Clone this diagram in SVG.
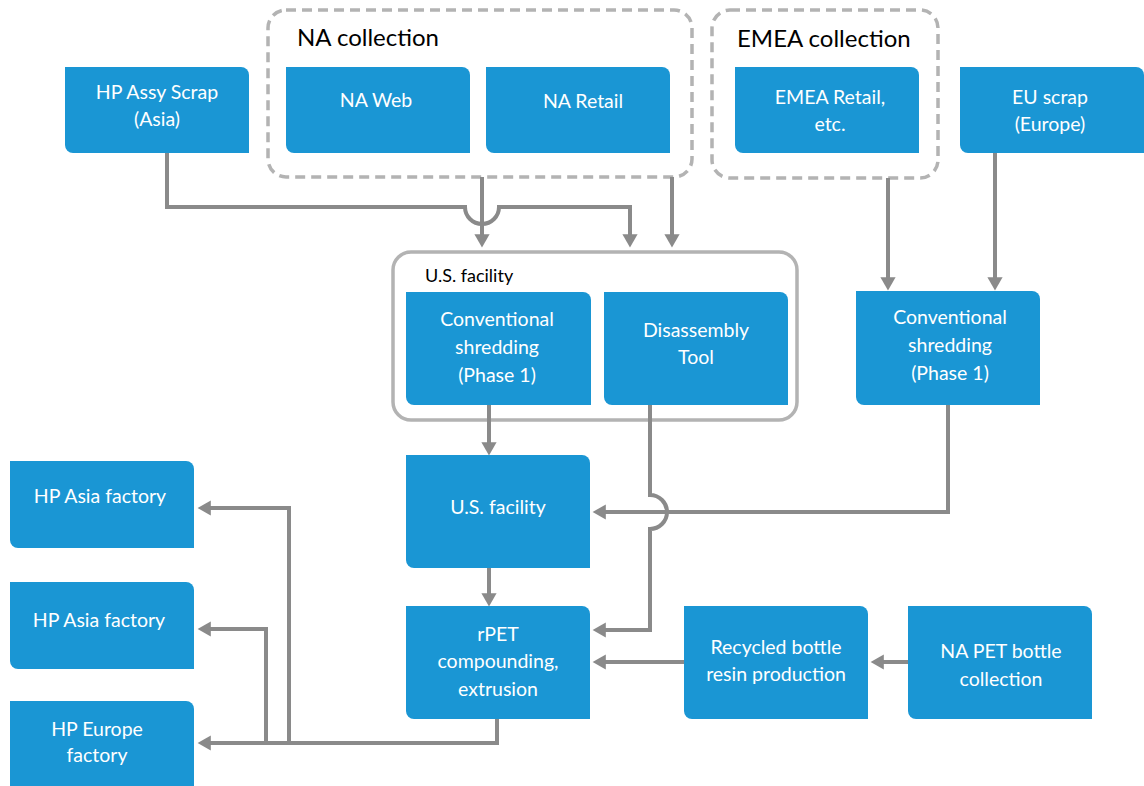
<svg xmlns="http://www.w3.org/2000/svg" width="1144" height="786" viewBox="0 0 1144 786">
<style>
.box{fill:#1a96d4}
.t{font-family:Lato,"Liberation Sans",sans-serif;font-size:19.5px;fill:#fff;text-anchor:middle}
.lbl{font-family:Lato,"Liberation Sans",sans-serif;fill:#000}
.dash{fill:none;stroke:#b3b3b3;stroke-width:3.5;stroke-dasharray:10 6}
.grp{fill:none;stroke:#b3b3b3;stroke-width:3.5}
.c{fill:none;stroke:#8a8a8a;stroke-width:4}
.ca{fill:none;stroke:#8a8a8a;stroke-width:4;marker-end:url(#ah)}
</style>
<defs>
<marker id="ah" markerWidth="4" markerHeight="4" refX="2.2" refY="2" orient="auto" markerUnits="strokeWidth" viewBox="0 0 4 4">
<path d="M0,0.1 L3.3,2 L0,3.9 z" fill="#8a8a8a"/>
</marker>
</defs>
<rect width="1144" height="786" fill="#fff"/>

<g id="na-collection">
<rect class="dash" x="268" y="10" width="424" height="167" rx="18"/>
<text class="lbl" x="297" y="46" font-size="24">NA collection</text>
</g>
<g id="emea-collection">
<rect class="dash" x="712" y="10" width="226" height="168" rx="18"/>
<text class="lbl" x="737" y="47" font-size="24">EMEA collection</text>
</g>
<g id="us-facility-group">
<rect class="grp" x="393" y="252" width="404" height="168" rx="18"/>
<text class="lbl" x="425" y="282" font-size="18">U.S. facility</text>
</g>

<g id="connectors">
<path class="ca" d="M167,153 V207 H465 A17,17 0 0 0 499,207 H630 V243"/>
<path class="ca" d="M482,177 V243"/>
<path class="ca" d="M672,177 V243"/>
<path class="ca" d="M888,178 V286"/>
<path class="ca" d="M995,153 V286"/>
<path class="ca" d="M489,405 V451"/>
<path class="ca" d="M650,405 V495 A17,17 0 0 1 650,529 V630 H597"/>
<path class="ca" d="M948,405 V512 H597"/>
<path class="ca" d="M489,568 V602"/>
<path class="ca" d="M684,662 H597"/>
<path class="ca" d="M908,662 H875"/>
<path class="ca" d="M497,719 V743 H202"/>
<path class="ca" d="M289,743 V508 H202"/>
<path class="ca" d="M266,743 V629 H202"/>
</g>

<g id="hp-assy-scrap"><path class="box" d="M65,67 H241 A8,8 0 0 1 249,75 V153 H73 A8,8 0 0 1 65,145 Z"/>
<text class="t" x="157" y="99">HP Assy Scrap</text><text class="t" x="157" y="126">(Asia)</text></g>
<g id="na-web"><path class="box" d="M286,67 H462 A8,8 0 0 1 470,75 V153 H294 A8,8 0 0 1 286,145 Z"/>
<text class="t" x="376" y="107">NA Web</text></g>
<g id="na-retail"><path class="box" d="M486,67 H662 A8,8 0 0 1 670,75 V153 H494 A8,8 0 0 1 486,145 Z"/>
<text class="t" x="583" y="108">NA Retail</text></g>
<g id="emea-retail"><path class="box" d="M735,67 H911 A8,8 0 0 1 919,75 V153 H743 A8,8 0 0 1 735,145 Z"/>
<text class="t" x="830" y="104">EMEA Retail,</text><text class="t" x="830" y="131">etc.</text></g>
<g id="eu-scrap"><path class="box" d="M960,67 H1136 A8,8 0 0 1 1144,75 V153 H968 A8,8 0 0 1 960,145 Z"/>
<text class="t" x="1050" y="104">EU scrap</text><text class="t" x="1050" y="131">(Europe)</text></g>

<g id="conv-shredding-us"><path class="box" d="M406,292 H583 A8,8 0 0 1 591,300 V405 H414 A8,8 0 0 1 406,397 Z"/>
<text class="t" x="497" y="326">Conventional</text><text class="t" x="497" y="354">shredding</text><text class="t" x="497" y="382">(Phase 1)</text></g>
<g id="disassembly-tool"><path class="box" d="M604,292 H780 A8,8 0 0 1 788,300 V405 H612 A8,8 0 0 1 604,397 Z"/>
<text class="t" x="696" y="337">Disassembly</text><text class="t" x="696" y="364">Tool</text></g>
<g id="conv-shredding-eu"><path class="box" d="M856,291 H1032 A8,8 0 0 1 1040,299 V405 H864 A8,8 0 0 1 856,397 Z"/>
<text class="t" x="950" y="324">Conventional</text><text class="t" x="950" y="352">shredding</text><text class="t" x="950" y="380">(Phase 1)</text></g>

<g id="us-facility"><path class="box" d="M406,455 H582 A8,8 0 0 1 590,463 V568 H414 A8,8 0 0 1 406,560 Z"/>
<text class="t" x="498" y="514">U.S. facility</text></g>
<g id="rpet"><path class="box" d="M406,606 H582 A8,8 0 0 1 590,614 V719 H414 A8,8 0 0 1 406,711 Z"/>
<text class="t" x="498" y="641">rPET</text><text class="t" x="498" y="668">compounding,</text><text class="t" x="498" y="696">extrusion</text></g>
<g id="recycled-bottle"><path class="box" d="M684,606 H860 A8,8 0 0 1 868,614 V719 H692 A8,8 0 0 1 684,711 Z"/>
<text class="t" x="776" y="654">Recycled bottle</text><text class="t" x="776" y="681">resin production</text></g>
<g id="na-pet"><path class="box" d="M908,606 H1084 A8,8 0 0 1 1092,614 V719 H916 A8,8 0 0 1 908,711 Z"/>
<text class="t" x="1001" y="658">NA PET bottle</text><text class="t" x="1001" y="686">collection</text></g>

<g id="hp-asia-1"><path class="box" d="M10,461 H186 A8,8 0 0 1 194,469 V548 H18 A8,8 0 0 1 10,540 Z"/>
<text class="t" x="100" y="503">HP Asia factory</text></g>
<g id="hp-asia-2"><path class="box" d="M10,582 H186 A8,8 0 0 1 194,590 V669 H18 A8,8 0 0 1 10,661 Z"/>
<text class="t" x="99" y="627">HP Asia factory</text></g>
<g id="hp-europe"><path class="box" d="M10,701 H186 A8,8 0 0 1 194,709 V786 H10 Z"/>
<text class="t" x="97" y="736">HP Europe</text><text class="t" x="97" y="762">factory</text></g>
</svg>
